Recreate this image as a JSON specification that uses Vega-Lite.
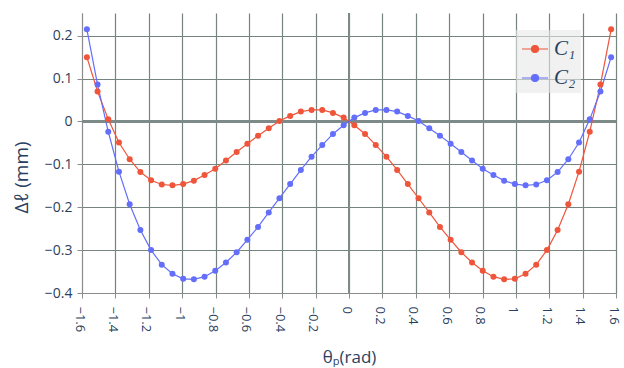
{
  "$schema": "https://vega.github.io/schema/vega-lite/v6.json",
  "width": 534,
  "height": 280,
  "autosize": {"type": "none"},
  "padding": {"left": 82, "top": 13, "right": 8, "bottom": 75},
  "background": "white",
  "config": {
    "view": {"stroke": null},
    "font": "Open Sans",
    "axis": {
      "labelFont": "Open Sans",
      "labelFontSize": 13,
      "labelColor": "#2a3f5f",
      "titleColor": "#2a3f5f",
      "titleFont": "Open Sans",
      "titleFontWeight": "normal",
      "domainColor": "#8c8c8c",
      "tickColor": "#8c8c8c",
      "tickSize": 5,
      "labelOverlap": false,
      "labelFlush": false
    }
  },
  "data": {
    "values": [
      {"t": -1.5708, "c1": 0.150, "c2": 0.215},
      {"t": -1.5067, "c1": 0.070, "c2": 0.086},
      {"t": -1.4426, "c1": 0.005, "c2": -0.024},
      {"t": -1.3785, "c1": -0.049, "c2": -0.117},
      {"t": -1.3143, "c1": -0.088, "c2": -0.193},
      {"t": -1.2502, "c1": -0.118, "c2": -0.253},
      {"t": -1.1861, "c1": -0.137, "c2": -0.300},
      {"t": -1.1220, "c1": -0.147, "c2": -0.334},
      {"t": -1.0579, "c1": -0.149, "c2": -0.355},
      {"t": -0.9938, "c1": -0.146, "c2": -0.367},
      {"t": -0.9297, "c1": -0.138, "c2": -0.368},
      {"t": -0.8655, "c1": -0.125, "c2": -0.362},
      {"t": -0.8014, "c1": -0.110, "c2": -0.348},
      {"t": -0.7373, "c1": -0.091, "c2": -0.329},
      {"t": -0.6732, "c1": -0.071, "c2": -0.305},
      {"t": -0.6091, "c1": -0.052, "c2": -0.276},
      {"t": -0.5450, "c1": -0.033, "c2": -0.246},
      {"t": -0.4809, "c1": -0.016, "c2": -0.212},
      {"t": -0.4167, "c1": 0.001, "c2": -0.179},
      {"t": -0.3526, "c1": 0.013, "c2": -0.146},
      {"t": -0.2885, "c1": 0.023, "c2": -0.113},
      {"t": -0.2244, "c1": 0.027, "c2": -0.082},
      {"t": -0.1603, "c1": 0.027, "c2": -0.055},
      {"t": -0.0962, "c1": 0.020, "c2": -0.029},
      {"t": -0.0321, "c1": 0.009, "c2": -0.009},
      {"t": 0.0321, "c1": -0.009, "c2": 0.009},
      {"t": 0.0962, "c1": -0.029, "c2": 0.020},
      {"t": 0.1603, "c1": -0.055, "c2": 0.027},
      {"t": 0.2244, "c1": -0.082, "c2": 0.027},
      {"t": 0.2885, "c1": -0.113, "c2": 0.023},
      {"t": 0.3526, "c1": -0.146, "c2": 0.013},
      {"t": 0.4167, "c1": -0.179, "c2": 0.001},
      {"t": 0.4809, "c1": -0.212, "c2": -0.016},
      {"t": 0.5450, "c1": -0.246, "c2": -0.033},
      {"t": 0.6091, "c1": -0.276, "c2": -0.052},
      {"t": 0.6732, "c1": -0.305, "c2": -0.071},
      {"t": 0.7373, "c1": -0.329, "c2": -0.091},
      {"t": 0.8014, "c1": -0.348, "c2": -0.110},
      {"t": 0.8655, "c1": -0.362, "c2": -0.125},
      {"t": 0.9297, "c1": -0.368, "c2": -0.138},
      {"t": 0.9938, "c1": -0.367, "c2": -0.146},
      {"t": 1.0579, "c1": -0.355, "c2": -0.149},
      {"t": 1.1220, "c1": -0.334, "c2": -0.147},
      {"t": 1.1861, "c1": -0.300, "c2": -0.137},
      {"t": 1.2502, "c1": -0.253, "c2": -0.118},
      {"t": 1.3143, "c1": -0.193, "c2": -0.088},
      {"t": 1.3785, "c1": -0.117, "c2": -0.049},
      {"t": 1.4426, "c1": -0.024, "c2": 0.005},
      {"t": 1.5067, "c1": 0.086, "c2": 0.070},
      {"t": 1.5708, "c1": 0.215, "c2": 0.150}
    ]
  },
  "transform": [{"fold": ["c1", "c2"], "as": ["series", "dl"]}],
  "encoding": {
    "x": {
      "field": "t", "type": "quantitative",
      "scale": {"domain": [-1.6, 1.6], "nice": false, "zero": false},
      "axis": {
        "values": [-1.6, -1.4, -1.2, -1, -0.8, -0.6, -0.4, -0.2, 0, 0.2, 0.4, 0.6, 0.8, 1, 1.2, 1.4, 1.6],
        "format": ".1~f",
        "grid": true,
        "gridColor": "#76847f",
        "gridOpacity": 1,
        "gridWidth": 1.2,
        "labelOverlap": false,
        "labelAngle": 90,
        "labelPadding": 8,
        "labelOffset": -3,
        "title": "θₚ(rad)",
        "titleFontSize": 17,
        "titleBaseline": "alphabetic",
        "titleY": 69,
        "titleX": 267
      }
    },
    "y": {
      "field": "dl", "type": "quantitative",
      "scale": {"domain": [-0.4, 0.253], "nice": false, "zero": false},
      "axis": {
        "values": [-0.4, -0.3, -0.2, -0.1, 0, 0.1, 0.2],
        "format": ".1~f",
        "grid": true,
        "gridColor": "#76847f",
        "gridOpacity": 1,
        "gridWidth": 1.2,
        "labelOverlap": false,
        "labelFontSize": 14,
        "labelPadding": 5,
        "title": "Δℓ (mm)",
        "titleFontSize": 19,
        "titleAngle": -90,
        "titleBaseline": "middle",
        "titleAlign": "center",
        "titleX": -61,
        "titleY": 164
      }
    }
  },
  "layer": [
    {
      "mark": {"type": "rule", "color": "#7d8a87", "strokeWidth": 2},
      "encoding": {"x": null, "y": {"datum": 0, "type": "quantitative"}}
    },
    {
      "mark": {"type": "rule", "color": "#7d8a87", "strokeWidth": 2},
      "encoding": {"y": null, "x": {"datum": 0, "type": "quantitative"}}
    },
    {
      "mark": {"type": "line", "strokeWidth": 1.2},
      "encoding": {
        "color": {
          "field": "series", "type": "nominal",
          "scale": {"domain": ["c1", "c2"], "range": ["#EF553B", "#636EFA"]},
          "legend": {
            "orient": "none",
            "legendX": 434,
            "legendY": 17,
            "title": null,
            "fillColor": "rgba(232,232,232,0.6)",
            "padding": 5,
            "rowPadding": 5,
            "symbolType": "M-1,0H-0.27A0.27,0.27,0,1,1,0.27,0A0.27,0.27,0,1,1,-0.27,0M0.27,0H1",
            "symbolSize": 676,
            "symbolStrokeWidth": 1.2,
            "labelFont": "Liberation Serif",
            "labelFontStyle": "italic",
            "labelFontSize": 21,
            "labelColor": "#2a3f5f",
            "labelOffset": 5,
            "labelExpr": "datum.label == 'c1' ? 'C₁' : 'C₂'",
            "encode": {
              "symbols": {
                "update": {
                  "fill": {"scale": "color", "field": "value"},
                  "stroke": {"scale": "color", "field": "value"},
                  "opacity": {"value": 1}
                }
              }
            }
          }
        }
      }
    },
    {
      "mark": {"type": "point", "filled": true, "size": 36, "opacity": 1},
      "encoding": {
        "color": {"field": "series", "type": "nominal"}
      }
    }
  ]
}
